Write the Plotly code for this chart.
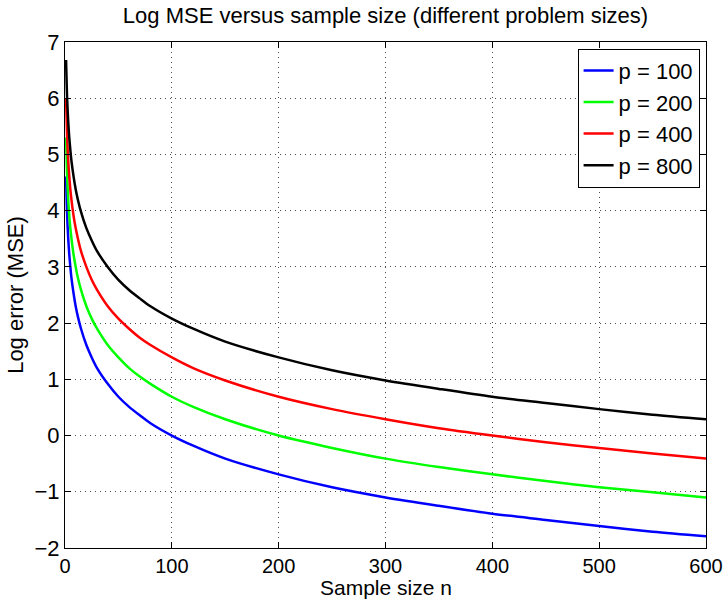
import plotly.graph_objects as go

n = [1, 2, 3, 4, 5, 6, 8, 10, 12, 15, 20, 25, 30, 40, 50, 60, 70, 80, 100, 120,
     150, 200, 250, 300, 350, 400, 450, 500, 550, 600]

p100 = [4.61, 3.91, 3.51, 3.22, 3.00, 2.81, 2.53, 2.30, 2.12, 1.90, 1.61, 1.39, 1.20,
        0.92, 0.69, 0.51, 0.36, 0.22, 0.00, -0.18, -0.41, -0.69, -0.92, -1.10, -1.25,
        -1.39, -1.50, -1.61, -1.71, -1.79]
p200 = [5.30, 4.61, 4.20, 3.91, 3.69, 3.51, 3.22, 3.00, 2.81, 2.59, 2.30, 2.08, 1.90,
        1.61, 1.39, 1.20, 1.05, 0.92, 0.69, 0.51, 0.29, 0.00, -0.22, -0.41, -0.56,
        -0.69, -0.81, -0.92, -1.01, -1.10]
p400 = [5.99, 5.30, 4.89, 4.61, 4.38, 4.20, 3.91, 3.69, 3.51, 3.28, 3.00, 2.77, 2.59,
        2.30, 2.08, 1.90, 1.74, 1.61, 1.39, 1.20, 0.98, 0.69, 0.47, 0.29, 0.13,
        0.00, -0.12, -0.22, -0.32, -0.41]
p800 = [6.68, 5.99, 5.59, 5.30, 5.08, 4.89, 4.61, 4.38, 4.20, 3.98, 3.69, 3.47, 3.28,
        3.00, 2.77, 2.59, 2.44, 2.30, 2.08, 1.90, 1.67, 1.39, 1.16, 0.98, 0.83,
        0.69, 0.58, 0.47, 0.37, 0.29]

series_names = ["p = 100", "p = 200", "p = 400", "p = 800"]
series_vals = [p100, p200, p400, p800]
colors = ["#0000ff", "#00ff00", "#ff0000", "#000000"]

x_ticks = [0, 100, 200, 300, 400, 500, 600]
y_ticks = [-2, -1, 0, 1, 2, 3, 4, 5, 6, 7]

fig = go.Figure()
for name, vals, c in zip(series_names, series_vals, colors):
    fig.add_trace(go.Scatter(x=n, y=vals, mode="lines", name=name,
                             line=dict(color=c, width=2.5, shape="spline", smoothing=0.8)))

font = "Liberation Sans, Arial, Helvetica, sans-serif"
FS = 22
axis_common = dict(
    showline=True, linecolor="black", linewidth=1, mirror="ticks",
    ticks="inside", ticklen=6, tickcolor="black", automargin=False,
    showgrid=True, gridcolor="rgba(0,0,0,0.7)", griddash="1px,4px", gridwidth=1,
    zeroline=False,
)

fig.update_layout(
    width=727, height=601,
    margin=dict(l=65, r=21, t=42, b=53),
    paper_bgcolor="white", plot_bgcolor="white",
    font=dict(family=font, color="black"),
    title=dict(text="Log MSE versus sample size (different problem sizes)",
               xref="paper", x=0.5, xanchor="center", y=0.975, yanchor="middle",
               font=dict(size=FS, color="black", family=font)),
    xaxis=dict(range=[0, 600], tickvals=x_ticks,
               tickfont=dict(size=20, color="black", family=font), **axis_common),
    yaxis=dict(range=[-2, 7], tickvals=y_ticks,
               tickfont=dict(size=FS, color="black", family=font),
               title=dict(text="Log error (MSE)", font=dict(size=FS), standoff=4),
               **axis_common),
    legend=dict(x=0.99, y=0.987, xanchor="right", yanchor="top",
                bgcolor="white", bordercolor="black", borderwidth=1,
                font=dict(size=FS, family=font), tracegroupgap=0),
    annotations=[dict(text="Sample size n", xref="paper", yref="paper",
                      x=0.5, y=-0.1035, xanchor="center", yanchor="bottom",
                      showarrow=False, borderpad=0,
                      font=dict(size=21, color="black", family=font))],
)

fig.write_html("out.html")
